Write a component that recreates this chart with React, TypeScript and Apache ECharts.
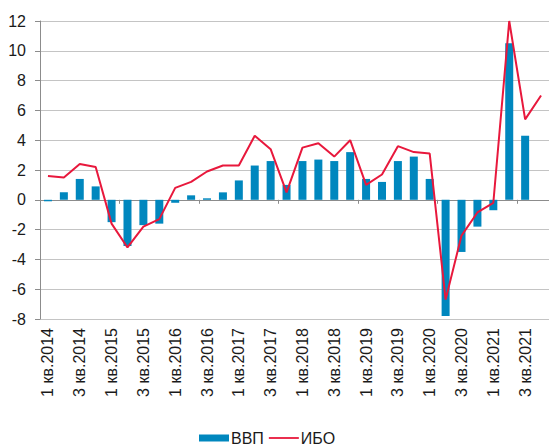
import React, { useEffect, useRef } from "react";
import * as echarts from "echarts";

const categories: string[] = [
  "1 кв.2014", "2 кв.2014", "3 кв.2014", "4 кв.2014",
  "1 кв.2015", "2 кв.2015", "3 кв.2015", "4 кв.2015",
  "1 кв.2016", "2 кв.2016", "3 кв.2016", "4 кв.2016",
  "1 кв.2017", "2 кв.2017", "3 кв.2017", "4 кв.2017",
  "1 кв.2018", "2 кв.2018", "3 кв.2018", "4 кв.2018",
  "1 кв.2019", "2 кв.2019", "3 кв.2019", "4 кв.2019",
  "1 кв.2020", "2 кв.2020", "3 кв.2020", "4 кв.2020",
  "1 кв.2021", "2 кв.2021", "3 кв.2021", "4 кв.2021",
];

const gdp: (number | null)[] = [
  -0.1, 0.5, 1.4, 0.9,
  -1.5, -3.1, -1.7, -1.6,
  -0.2, 0.3, 0.1, 0.5,
  1.3, 2.3, 2.6, 1.0,
  2.6, 2.7, 2.6, 3.2,
  1.4, 1.2, 2.6, 2.9,
  1.4, -7.8, -3.5, -1.8,
  -0.7, 10.5, 4.3, null,
];

const ibo: number[] = [
  1.6, 1.5, 2.4, 2.2,
  -1.6, -3.2, -1.8, -1.3,
  0.8, 1.2, 1.9, 2.3,
  2.3, 4.3, 3.4, 0.5,
  3.5, 3.8, 2.9, 4.0,
  1.0, 1.7, 3.6, 3.2,
  3.1, -6.7, -2.4, -0.85,
  -0.2, 12.0, 5.4, 7.0,
];

const FONT = "'Liberation Sans', Arial, sans-serif";
const TEXT = "#1a1a1a";

export default function App() {
  const ref = useRef<HTMLDivElement>(null);
  useEffect(() => {
    if (!ref.current) return;
    const chart = echarts.init(ref.current, undefined, { renderer: "svg" });
    chart.setOption({
      animation: false,
      textStyle: { fontFamily: FONT },
      grid: { left: 40, top: 21, width: 512, height: 298, containLabel: false },
      legend: {
        left: 194,
        top: 425,
        itemWidth: 30,
        itemHeight: 7,
        itemGap: 5,
        textStyle: { fontSize: 16, color: TEXT, fontFamily: FONT, padding: [0, 0, 0, -3] },
        data: [
          { name: "ВВП", icon: "rect" },
          { name: "ИБО", icon: "path://M0,0 M0,2.6 L30,2.6 L30,4.4 L0,4.4 Z M30,7" },
        ],
      },
      xAxis: [
        {
          type: "category",
          data: categories,
          position: "bottom",
          axisLine: { show: false, onZero: false },
          axisTick: { show: false },
          axisLabel: {
            rotate: 90,
            interval: 1,
            fontSize: 16,
            color: TEXT,
            fontFamily: FONT,
            margin: 9,
          },
          splitLine: { show: false },
        },
        {
          type: "category",
          data: categories,
          position: "top",
          axisLine: { show: true, onZero: true, lineStyle: { color: "#8c8c8c", width: 1 } },
          axisTick: { show: true, inside: true, length: 4, lineStyle: { color: "#8c8c8c" } },
          axisLabel: { show: false },
          splitLine: { show: false },
        },
      ],
      yAxis: {
        type: "value",
        min: -8,
        max: 12,
        interval: 2,
        axisLine: { show: true, lineStyle: { color: "#8c8c8c" } },
        axisTick: { show: true, length: 5, lineStyle: { color: "#8c8c8c" } },
        axisLabel: { fontSize: 16, color: TEXT, fontFamily: FONT, margin: 14 },
        splitLine: { show: true, lineStyle: { color: "#c4c4c4", width: 1 } },
      },
      series: [
        {
          name: "ВВП",
          type: "bar",
          xAxisIndex: 0,
          data: gdp,
          barWidth: 8,
          itemStyle: { color: "#0087BE" },
        },
        {
          name: "ИБО",
          type: "line",
          xAxisIndex: 0,
          data: ibo,
          symbol: "none",
          lineStyle: { color: "#E8183C", width: 2 },
          itemStyle: { color: "#E8183C" },
        },
      ],
    });
    return () => chart.dispose();
  }, []);
  return (
    <div
      ref={ref}
      style={{ position: "absolute", left: 0, top: 0, width: 549, height: 448 }}
    />
  );
}
